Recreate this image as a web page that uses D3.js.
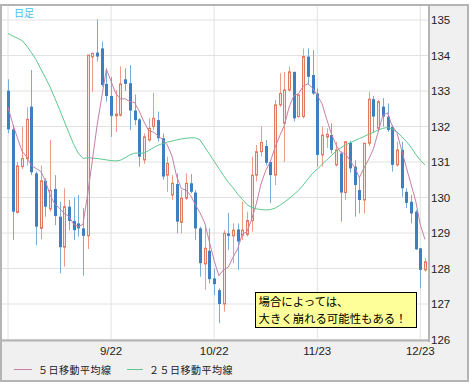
<!DOCTYPE html>
<html lang="ja">
<head>
<meta charset="utf-8">
<title>日足チャート</title>
<script src="https://cdn.jsdelivr.net/npm/d3@7"></script>
<style>
  body { margin: 0; background: #fff; }
</style>
</head>
<body>
<div id="chart"></div>
<script>
// 四本値（日足 90本）
const open  = [133.01,131.92,129.58,130.87,131.10,132.56,130.68,129.13,130.47,129.68,
               130.24,129.46,128.60,129.74,129.34,129.27,129.13,128.92,133.96,134.08,
               134.20,133.20,132.86,132.30,132.32,133.33,133.22,132.45,132.20,131.06,
               131.62,132.00,132.18,131.67,130.63,130.07,130.38,129.30,129.98,130.40,
               130.14,129.13,128.13,128.50,127.72,127.39,127.00,128.99,128.92,129.10,
               128.94,128.96,129.35,130.63,131.29,131.45,131.00,130.63,132.61,132.09,
               133.03,133.54,132.28,132.28,133.97,133.45,132.93,131.20,131.70,131.76,
               130.92,131.24,130.14,131.54,130.87,130.21,129.93,131.53,132.77,131.95,
               132.56,132.28,131.99,130.92,131.34,130.16,129.88,129.60,128.57,127.96];
const high  = [133.33,132.04,131.00,132.00,132.54,133.59,130.73,130.90,130.54,131.62,
               130.63,129.88,130.26,129.93,130.00,130.07,129.70,134.01,134.08,135.02,
               134.39,133.64,133.40,133.03,133.69,133.64,133.73,132.90,132.23,131.80,
               132.23,132.95,132.42,131.80,131.15,130.63,130.68,130.21,130.68,130.66,
               130.21,129.18,129.18,129.13,128.00,127.44,129.08,129.57,129.27,129.27,
               129.88,129.60,131.15,131.48,132.00,131.62,131.05,132.75,133.50,133.54,
               133.69,133.54,132.89,134.20,134.20,134.15,133.07,132.00,131.95,132.09,
               131.57,131.30,131.57,131.60,131.05,130.59,131.53,132.98,132.86,132.75,
               132.80,132.65,132.04,131.57,131.57,130.26,130.07,129.65,128.57,128.29];
const low   = [131.81,128.80,129.55,130.80,130.90,130.63,128.66,128.82,129.46,129.60,
               129.22,127.86,128.05,129.08,128.80,128.90,127.80,128.55,132.98,133.83,
               133.12,132.70,131.71,131.85,132.28,133.00,131.90,132.04,130.87,130.95,
               131.57,131.90,131.57,130.50,130.16,129.93,128.99,128.99,129.93,130.12,
               128.80,127.77,127.40,127.58,127.25,126.46,126.78,128.52,128.15,127.96,
               128.80,128.90,129.04,130.45,131.15,130.90,129.84,130.35,132.55,131.00,
               132.98,132.14,132.25,132.23,133.17,132.89,130.87,130.87,131.40,131.24,
               130.87,129.32,129.93,130.70,129.46,129.55,129.55,131.45,131.81,131.85,
               132.00,131.85,130.73,130.87,130.02,129.70,129.27,128.52,127.44,127.91];
const close = [131.92,129.60,130.89,131.10,132.20,130.71,129.18,130.47,129.74,130.20,
               129.48,128.60,129.74,129.34,129.08,129.13,128.92,134.01,134.06,133.97,
               133.17,132.86,132.30,132.35,133.20,133.20,132.45,132.18,131.15,131.71,
               131.95,132.23,131.67,130.59,130.96,130.40,129.32,129.98,130.40,130.16,
               129.13,128.15,128.57,127.70,127.56,127.00,128.99,128.92,129.08,128.76,
               129.08,129.35,130.63,131.29,131.55,130.98,130.63,132.61,132.93,133.03,
               133.54,132.23,132.89,133.97,133.40,132.93,131.20,131.76,131.78,131.34,
               131.34,130.14,131.57,130.82,130.35,129.93,131.53,132.77,132.28,132.70,
               132.28,131.90,130.92,131.34,130.26,129.85,129.55,128.54,127.96,128.19];
// 表示範囲より前の終値（5日線の計算用）
const preClose = [131.90, 132.90, 133.00, 133.00];
// 25日移動平均線
const ma25 = [134.62,134.55,134.49,134.42,134.27,134.08,133.88,133.62,133.37,133.11,
              132.80,132.48,132.15,131.82,131.50,131.25,131.10,131.12,131.11,131.10,
              131.08,131.06,131.04,131.03,131.05,131.12,131.20,131.25,131.25,131.25,
              131.32,131.40,131.47,131.52,131.56,131.59,131.62,131.65,131.67,131.68,
              131.68,131.62,131.42,131.22,131.02,130.82,130.62,130.43,130.28,130.10,
              129.95,129.80,129.72,129.68,129.66,129.65,129.66,129.70,129.78,129.87,
              129.97,130.08,130.20,130.35,130.52,130.68,130.80,130.93,131.05,131.18,
              131.30,131.40,131.48,131.54,131.60,131.66,131.72,131.78,131.84,131.90,
              131.95,131.97,131.93,131.85,131.72,131.58,131.42,131.22,131.05,130.92];

const yTicks = [126, 127, 128, 129, 130, 131, 132, 133, 134, 135];
const gridIdx = [0, 22, 44, 66, 88];
const dateIdx = [22, 44, 66, 88];
const dateLabels = ["9/22", "10/22", "11/23", "12/23"];
const legendLabels = ["５日移動平均線", "２５日移動平均線"];
const noteLines = ["場合によっては、", "大きく崩れる可能性もある！"];

const width = 473, height = 384;
const plot = {left: 2, top: 6, right: 428, bottom: 340};

const x = d3.scaleLinear().domain([0, close.length - 1]).range([8, 425]);
const y = d3.scaleLinear().domain([126, 135]).range([339.5, 20]);

// 5日移動平均
const allClose = preClose.concat(close);
const ma5 = close.map((d, i) => d3.mean(allClose.slice(i, i + 5)));

const svg = d3.select("#chart").append("svg")
    .attr("width", width)
    .attr("height", height)
    .attr("font-family", "'Liberation Sans', Arial, sans-serif");

// 外枠
svg.append("rect")
    .attr("x", 1).attr("y", 5)
    .attr("width", 467).attr("height", 376)
    .attr("fill", "#f0f0f0")
    .attr("stroke", "#b4b4b4")
    .attr("stroke-width", 2);

svg.append("rect")
    .attr("x", plot.left).attr("y", plot.top)
    .attr("width", plot.right - plot.left).attr("height", plot.bottom - plot.top)
    .attr("fill", "#fff");

svg.append("clipPath").attr("id", "clip")
  .append("rect")
    .attr("x", plot.left).attr("y", plot.top)
    .attr("width", plot.right - plot.left).attr("height", plot.bottom - plot.top);

const g = svg.append("g").attr("clip-path", "url(#clip)");

// グリッド
g.append("g")
  .selectAll("line")
  .data(yTicks)
  .join("line")
    .attr("x1", plot.left).attr("x2", plot.right)
    .attr("y1", d => y(d)).attr("y2", d => y(d))
    .attr("stroke", "#e2e2e2");

g.append("g")
  .selectAll("line")
  .data(gridIdx)
  .join("line")
    .attr("x1", d => x(d)).attr("x2", d => x(d))
    .attr("y1", plot.top).attr("y2", plot.bottom)
    .attr("stroke", "#e2e2e2");

// ローソク足
const idx = d3.range(close.length);
const up = i => close[i] >= open[i];
const cx = i => Math.round(x(i));

g.append("g")
  .selectAll("line")
  .data(idx)
  .join("line")
    .attr("x1", i => cx(i) + 0.5).attr("x2", i => cx(i) + 0.5)
    .attr("y1", i => y(high[i])).attr("y2", i => y(low[i]))
    .attr("stroke", i => up(i) ? "#ee9c88" : "#78acd8");

g.append("g")
  .selectAll("rect")
  .data(idx)
  .join("rect")
    .attr("x", i => up(i) ? cx(i) - 0.5 : cx(i) - 1)
    .attr("width", i => up(i) ? 2 : 3)
    .attr("y", i => y(Math.max(open[i], close[i])))
    .attr("height", i => Math.max(1, y(Math.min(open[i], close[i])) - y(Math.max(open[i], close[i]))))
    .attr("fill", i => up(i) ? "#fde6df" : "#3d7fc1")
    .attr("stroke", i => up(i) ? "#e27a62" : "none");

// 移動平均線
const line = d3.line().x((d, i) => x(i)).y(d => y(d));

g.append("path")
    .datum(ma25)
    .attr("fill", "none")
    .attr("stroke", "#5ec88f")
    .attr("stroke-width", 1)
    .attr("d", line);

g.append("path")
    .datum(ma5)
    .attr("fill", "none")
    .attr("stroke", "#c67fa6")
    .attr("stroke-width", 1)
    .attr("d", line);

// 枠線（右・下）
svg.append("line")
    .attr("x1", plot.right + 1).attr("x2", plot.right + 1)
    .attr("y1", plot.top).attr("y2", plot.bottom + 2)
    .attr("stroke", "#b4b4b4").attr("stroke-width", 2);
svg.append("line")
    .attr("x1", plot.left).attr("x2", plot.right + 2)
    .attr("y1", plot.bottom + 0.5).attr("y2", plot.bottom + 0.5)
    .attr("stroke", "#b4b4b4").attr("stroke-width", 2);

// 日足ラベル
svg.append("text")
    .attr("x", 14).attr("y", 17)
    .attr("font-family", "'Noto Sans CJK JP', sans-serif")
    .attr("font-size", 10)
    .attr("fill", "#4cbcef")
    .text("日足");

// 価格軸
svg.append("g")
    .attr("transform", `translate(${plot.right},0)`)
    .call(d3.axisRight(y).tickValues(yTicks).tickSize(0).tickPadding(3))
    .call(g => g.select(".domain").remove())
    .call(g => g.selectAll("text")
        .attr("font-size", 11.5)
        .attr("font-family", "'Liberation Sans', Arial, sans-serif")
        .attr("fill", "#222"));

// 日付
svg.append("g")
  .selectAll("text")
  .data(dateIdx)
  .join("text")
    .attr("x", d => x(d))
    .attr("y", 355)
    .attr("text-anchor", "middle")
    .attr("font-size", 11.5)
    .attr("fill", "#222")
    .text((d, i) => dateLabels[i]);

// 凡例
const legend = [
  {x: 14, len: 18, color: "#c67fa6"},
  {x: 127, len: 16, color: "#5ec88f"}
];
const lg = svg.append("g")
  .selectAll("g")
  .data(legend)
  .join("g")
    .attr("transform", d => `translate(${d.x},369.5)`);
lg.append("line")
    .attr("x1", 0).attr("x2", d => d.len)
    .attr("stroke", d => d.color);
lg.append("text")
    .attr("x", d => d.len + 6)
    .attr("y", 4)
    .attr("font-family", "'Noto Sans CJK JP', sans-serif")
    .attr("font-size", 10)
    .attr("letter-spacing", 0.5)
    .attr("fill", "#222")
    .text((d, i) => legendLabels[i]);

// 注記
svg.append("rect")
    .attr("x", 255.5).attr("y", 292.5)
    .attr("width", 161).attr("height", 35)
    .attr("fill", "#ffff99")
    .attr("stroke", "#000");
svg.append("g")
  .selectAll("text")
  .data(noteLines)
  .join("text")
    .attr("x", 258.5)
    .attr("y", (d, i) => 306 + i * 17)
    .attr("font-family", "'Noto Sans CJK JP', sans-serif")
    .attr("font-size", 11.4)
    .attr("fill", "#000")
    .text(d => d);
</script>
</body>
</html>
